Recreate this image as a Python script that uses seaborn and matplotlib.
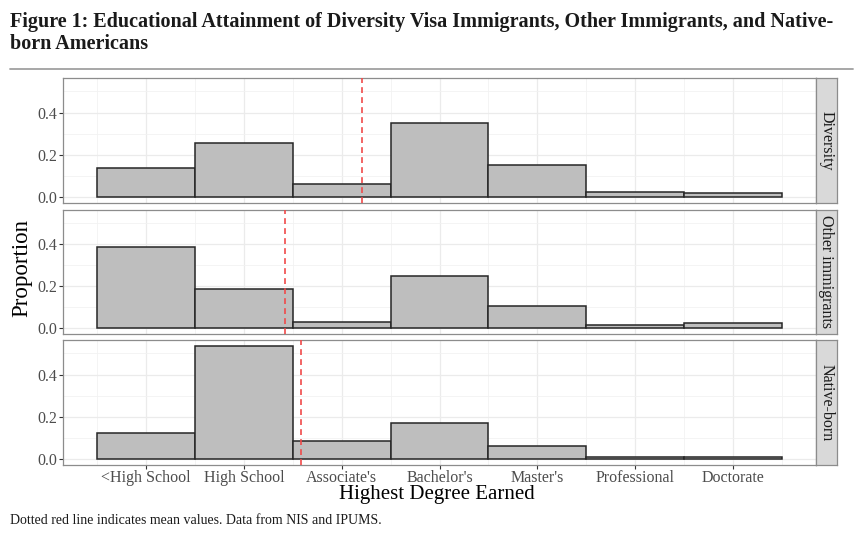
import matplotlib
matplotlib.use("Agg")
import matplotlib.pyplot as plt
from matplotlib.lines import Line2D
from matplotlib.ticker import FixedLocator
import seaborn as sns
import pandas as pd
import numpy as np

categories = ["<High School", "High School", "Associate's", "Bachelor's",
              "Master's", "Professional", "Doctorate"]
groups = ["Diversity", "Other immigrants", "Native-born"]
diversity = [0.137, 0.256, 0.063, 0.351, 0.154, 0.027, 0.019]
other_immigrants = [0.389, 0.187, 0.032, 0.251, 0.108, 0.016, 0.024]
native_born = [0.122, 0.536, 0.085, 0.169, 0.061, 0.012, 0.011]
group_means = [3.21, 2.42, 2.58]
y_ticks = [0.0, 0.2, 0.4]

values = {"Diversity": diversity, "Other immigrants": other_immigrants,
          "Native-born": native_born}
rows = []
for g in groups:
    for i, c in enumerate(categories):
        rows.append({"group": g, "level": i + 1, "degree": c, "prop": values[g][i]})
df = pd.DataFrame(rows)

sns.set_theme(style="white")
plt.rcParams["font.family"] = ["Liberation Serif", "DejaVu Serif"]

W, H = 860, 537
fig = plt.figure(figsize=(W / 100, H / 100), dpi=100)

panels_px = [(78, 203), (210, 334), (340, 465)]
left_px, right_px = 63, 816
strip_w = 21

ymax = max(max(diversity), max(other_immigrants), max(native_born))
ylo, yhi = -0.05 * ymax, ymax * 1.05

for k, g in enumerate(groups):
    top, bot = panels_px[k]
    ax = fig.add_axes([left_px / W, 1 - bot / H, (right_px - left_px) / W, (bot - top) / H])
    sub = df[df["group"] == g]
    sns.histplot(data=sub, x="level", weights="prop", discrete=True, ax=ax,
                 color="#bebebe", edgecolor="#262626", linewidth=1.1, alpha=1,
                 zorder=3)
    ax.axvline(group_means[k], color="#f04a4a", linestyle=(0, (3.5, 2.5)),
               linewidth=1.2, zorder=4)
    ax.set_xlim(0.15, 7.85)
    ax.set_ylim(ylo, yhi)
    ax.xaxis.set_major_locator(FixedLocator(range(1, 8)))
    ax.xaxis.set_minor_locator(FixedLocator(np.arange(0.5, 8, 1.0)))
    ax.yaxis.set_major_locator(FixedLocator(y_ticks))
    ax.yaxis.set_minor_locator(FixedLocator([0.1, 0.3, 0.5]))
    ax.grid(which="major", color="#ebebeb", linewidth=0.9, zorder=0)
    ax.grid(which="minor", color="#f2f2f2", linewidth=0.6, zorder=0)
    ax.set_axisbelow(True)
    for s in ax.spines.values():
        s.set_color("#8c8c8c")
        s.set_linewidth(0.9)
        s.set_visible(True)
    ax.set_yticks(y_ticks)
    ax.set_yticklabels([f"{v:.1f}" for v in y_ticks], fontsize=11.5, color="#4d4d4d")
    ax.tick_params(axis="both", which="major", length=3, width=0.8, color="#333333",
                   direction="out", left=True, bottom=True, pad=1.5)
    ax.tick_params(axis="x", which="major", pad=0.5)
    ax.tick_params(axis="both", which="minor", length=0)
    ax.set_ylabel("")
    ax.set_xlabel("")
    if k < 2:
        ax.set_xticklabels([])
        ax.tick_params(axis="x", which="major", length=0)
    else:
        ax.set_xticks(range(1, 8))
        ax.set_xticklabels(categories, fontsize=11.5, color="#4d4d4d")
    # strip
    sax = fig.add_axes([right_px / W, 1 - bot / H, strip_w / W, (bot - top) / H])
    sax.set_facecolor("#d9d9d9")
    sax.set_xticks([])
    sax.set_yticks([])
    for s in sax.spines.values():
        s.set_color("#8c8c8c")
        s.set_linewidth(0.9)
        s.set_visible(True)
    sax.text(0.5, 0.5, g, rotation=-90, ha="center", va="center",
             fontsize=11.5, color="#1a1a1a", transform=sax.transAxes)

fig.text(22 / W, 1 - 268 / H, "Proportion", rotation=90, ha="center", va="center",
         fontsize=16.5, color="black")
fig.text(437 / W, 1 - 499 / H, "Highest Degree Earned", ha="center", va="baseline",
         fontsize=15, color="black")

fig.text(10 / W, 1 - 27 / H, "Figure 1: Educational Attainment of Diversity Visa Immigrants, Other Immigrants, and Native-",
         ha="left", va="baseline", fontsize=14.5, fontweight="bold", color="#1a1a1a")
fig.text(10 / W, 1 - 49 / H, "born Americans",
         ha="left", va="baseline", fontsize=14.5, fontweight="bold", color="#1a1a1a")
fig.add_artist(Line2D([10 / W, 853 / W], [1 - 69 / H, 1 - 69 / H],
                      color="#a0a0a0", linewidth=1.3, transform=fig.transFigure))
fig.text(10 / W, 1 - 524 / H, "Dotted red line indicates mean values. Data from NIS and IPUMS.",
         ha="left", va="baseline", fontsize=10, color="#1a1a1a")

fig.savefig("out.png", dpi=100, facecolor="white")
